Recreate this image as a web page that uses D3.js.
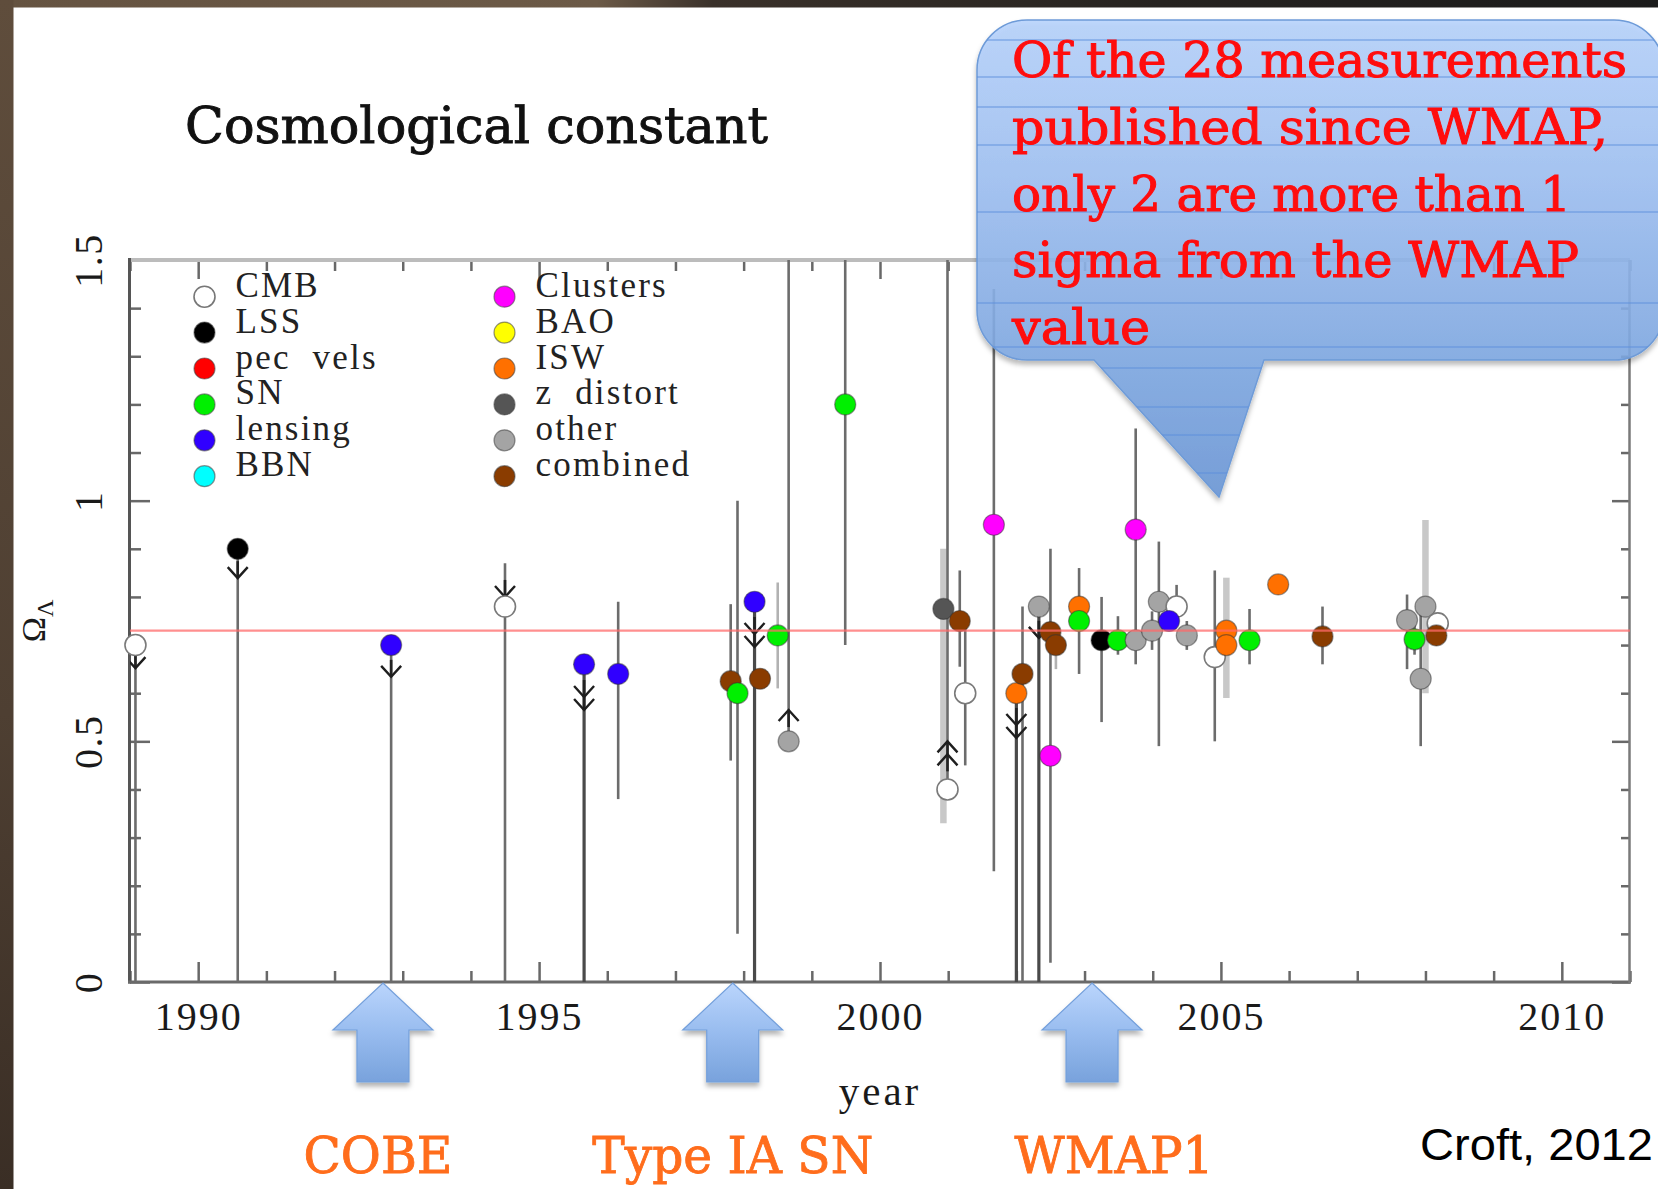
<!DOCTYPE html>
<html>
<head>
<meta charset="utf-8">
<script src="https://cdn.jsdelivr.net/npm/d3@7"></script>
<style>
  html, body { margin: 0; padding: 0; background: #fff; }
  svg { display: block; }
</style>
</head>
<body>
<svg id="chart" width="1658" height="1189"></svg>
<script>
// ---- Data -------------------------------------------------------------
const probes = ["CMB", "LSS", "pec vels", "SN", "lensing", "BBN",
                "Clusters", "BAO", "ISW", "z distort", "other", "combined"];
const probeColors = ["#ffffff", "#000000", "#ff0000", "#00f000", "#3000ff", "#00ffff",
                     "#ff00ff", "#ffff00", "#ff7000", "#555555", "#a4a4a4", "#8a3c00"];

// Omega_Lambda measurements: value with error range (lo..hi); err = bar style category
const measurements = [
  { year: 1989.08, probe: "CMB",       value: 0.70,  lo: 0.00, hi: 0.70 },
  { year: 1990.58, probe: "LSS",       value: 0.90,  lo: 0.00, hi: 0.90 },
  { year: 1992.83, probe: "lensing",   value: 0.70,  lo: 0.00, hi: 0.70 },
  { year: 1994.50, probe: "CMB",       value: 0.78,  lo: 0.00, hi: 0.87 },
  { year: 1995.66, probe: "lensing",   value: 0.66,  lo: 0.00, hi: 0.66, err: "dark" },
  { year: 1996.16, probe: "lensing",   value: 0.64,  lo: 0.38, hi: 0.79 },
  { year: 1997.81, probe: "combined",  value: 0.625, lo: 0.46, hi: 0.785 },
  { year: 1997.91, probe: "SN",        value: 0.60,  lo: 0.10, hi: 1.00 },
  { year: 1998.16, probe: "lensing",   value: 0.79,  lo: 0.00, hi: 0.79, err: "dark" },
  { year: 1998.24, probe: "combined",  value: 0.63 },
  { year: 1998.50, probe: "SN",        value: 0.72,  lo: 0.61, hi: 0.83, err: "faint" },
  { year: 1998.66, probe: "other",     value: 0.50,  lo: 0.52, hi: 1.60 },
  { year: 1999.49, probe: "SN",        value: 1.20,  lo: 0.70, hi: 1.60 },
  { year: 2000.93, probe: "z distort", value: 0.775, lo: 0.33, hi: 0.90, err: "wide" },
  { year: 2000.99, probe: "CMB",       value: 0.40,  lo: 0.42, hi: 1.60 },
  { year: 2001.17, probe: "combined",  value: 0.75,  lo: 0.655, hi: 0.855 },
  { year: 2001.25, probe: "CMB",       value: 0.60,  lo: 0.45, hi: 0.75 },
  { year: 2001.67, probe: "Clusters",  value: 0.95,  lo: 0.23, hi: 1.44 },
  { year: 2002.00, probe: "ISW",       value: 0.60,  lo: 0.00, hi: 0.60, err: "dark" },
  { year: 2002.09, probe: "combined",  value: 0.64,  lo: 0.00, hi: 0.78 },
  { year: 2002.33, probe: "other",     value: 0.78,  lo: 0.00, hi: 0.78, err: "dark" },
  { year: 2002.50, probe: "Clusters",  value: 0.47,  lo: 0.04, hi: 0.90 },
  { year: 2002.50, probe: "combined",  value: 0.727 },
  { year: 2002.58, probe: "combined",  value: 0.70,  lo: 0.65, hi: 0.73, err: "faint" },
  { year: 2002.92, probe: "ISW",       value: 0.78,  lo: 0.64, hi: 0.86 },
  { year: 2002.92, probe: "SN",        value: 0.75 },
  { year: 2003.25, probe: "LSS",       value: 0.71,  lo: 0.54, hi: 0.80 },
  { year: 2003.49, probe: "SN",        value: 0.71,  lo: 0.68, hi: 0.76 },
  { year: 2003.75, probe: "Clusters",  value: 0.94,  lo: 0.66, hi: 1.15 },
  { year: 2003.75, probe: "other",     value: 0.71 },
  { year: 2003.99, probe: "other",     value: 0.73,  lo: 0.69, hi: 0.77 },
  { year: 2004.09, probe: "other",     value: 0.79,  lo: 0.49, hi: 0.915 },
  { year: 2004.35, probe: "CMB",       value: 0.78,  lo: 0.74, hi: 0.825 },
  { year: 2004.24, probe: "lensing",   value: 0.75 },
  { year: 2004.50, probe: "other",     value: 0.72,  lo: 0.69, hi: 0.75 },
  { year: 2004.91, probe: "CMB",       value: 0.675, lo: 0.50, hi: 0.855 },
  { year: 2005.08, probe: "ISW",       value: 0.73,  lo: 0.59, hi: 0.84, err: "wide" },
  { year: 2005.08, probe: "ISW",       value: 0.70 },
  { year: 2005.42, probe: "SN",        value: 0.71,  lo: 0.66, hi: 0.775 },
  { year: 2005.84, probe: "ISW",       value: 0.826 },
  { year: 2006.49, probe: "combined",  value: 0.718, lo: 0.66, hi: 0.78 },
  { year: 2007.73, probe: "other",     value: 0.752, lo: 0.65, hi: 0.805 },
  { year: 2008.00, probe: "other",     value: 0.78,  lo: 0.60, hi: 0.96, err: "wide" },
  { year: 2007.93, probe: "other",     value: 0.63,  lo: 0.49, hi: 0.775 },
  { year: 2007.84, probe: "SN",        value: 0.712, lo: 0.68, hi: 0.75 },
  { year: 2008.18, probe: "CMB",       value: 0.745 },
  { year: 2008.16, probe: "combined",  value: 0.72,  lo: 0.70, hi: 0.74 }
];

// Limit arrowheads: tip value, direction, number of heads
const limitArrows = [
  { year: 1989.08, tip: 0.652, dir: "down", n: 1 },
  { year: 1990.58, tip: 0.839, dir: "down", n: 1 },
  { year: 1992.83, tip: 0.634, dir: "down", n: 1 },
  { year: 1994.50, tip: 0.800, dir: "down", n: 1 },
  { year: 1995.66, tip: 0.565, dir: "down", n: 2 },
  { year: 1998.16, tip: 0.696, dir: "down", n: 2 },
  { year: 1998.66, tip: 0.565, dir: "up",   n: 1 },
  { year: 2000.99, tip: 0.500, dir: "up",   n: 2 },
  { year: 2002.00, tip: 0.507, dir: "down", n: 2 },
  { year: 2002.33, tip: 0.715, dir: "down", n: 1 }
];

const wmapValue = 0.73;

const xTickYears = [1990, 1995, 2000, 2005, 2010];
const xTickLabels = ["1990", "1995", "2000", "2005", "2010"];
const yTickValues = [0, 0.5, 1, 1.5];
const yTickLabels = ["0", "0.5", "1", "1.5"];

const milestones = [
  { label: "COBE",       year: 1992.71 },
  { label: "Type IA SN", year: 1997.84 },
  { label: "WMAP1",      year: 2003.11 }
];

const calloutLines = [
  "Of the 28 measurements",
  "published since WMAP,",
  "only 2 are more than 1",
  "sigma from the WMAP",
  "value"
];

// ---- Setup --------------------------------------------------------------
const svg = d3.select("#chart");
const W = 1658, H = 1189;
const x = d3.scaleLinear().domain([1989, 2011]).range([130, 1630]);
const y = d3.scaleLinear().domain([0, 1.5]).range([982, 260]);
const color = d3.scaleOrdinal().domain(probes).range(probeColors);

const defs = svg.append("defs");

const topGrad = defs.append("linearGradient").attr("id", "topStrip")
  .attr("x1", 0).attr("x2", 1).attr("y1", 0).attr("y2", 0);
[[0, "#655341"], [0.36, "#6c5a47"], [0.43, "#3a312a"], [0.7, "#262320"], [1, "#1b1b1b"]]
  .forEach(([o, c]) => topGrad.append("stop").attr("offset", o).attr("stop-color", c));

const leftGrad = defs.append("linearGradient").attr("id", "leftStrip")
  .attr("x1", 0).attr("x2", 0).attr("y1", 0).attr("y2", 1);
[[0, "#5f4d3c"], [0.6, "#4e3f32"], [1, "#3a2e25"]]
  .forEach(([o, c]) => leftGrad.append("stop").attr("offset", o).attr("stop-color", c));

const bubbleGrad = defs.append("linearGradient").attr("id", "bubbleGrad")
  .attr("gradientUnits", "userSpaceOnUse").attr("x1", 0).attr("x2", 0).attr("y1", 20).attr("y2", 497);
[[0, "#b6d2fc"], [0.35, "#9dbff2"], [0.72, "#7ea8e2"], [1, "#6a96d6"]]
  .forEach(([o, c]) => bubbleGrad.append("stop").attr("offset", o).attr("stop-color", c));

const arrowGrad = defs.append("linearGradient").attr("id", "arrowGrad")
  .attr("x1", 0).attr("x2", 0).attr("y1", 0).attr("y2", 1);
[[0, "#bad5fc"], [0.5, "#98bcef"], [1, "#78a2dc"]]
  .forEach(([o, c]) => arrowGrad.append("stop").attr("offset", o).attr("stop-color", c));

const shadow = defs.append("filter").attr("id", "shadow")
  .attr("x", "-10%").attr("y", "-10%").attr("width", "130%").attr("height", "130%");
shadow.append("feDropShadow").attr("dx", 0).attr("dy", 4).attr("stdDeviation", 2.5)
  .attr("flood-color", "#000").attr("flood-opacity", 0.3);

defs.append("clipPath").attr("id", "plotClip").append("rect")
  .attr("x", x(1989)).attr("y", y(1.5)).attr("width", x(2011) - x(1989)).attr("height", y(0) - y(1.5));

// ---- Background ------------------------------------------------------------
svg.append("rect").attr("width", W).attr("height", H).attr("fill", "#fff");
svg.append("rect").attr("width", W).attr("height", 7.5).attr("fill", "url(#topStrip)");
svg.append("rect").attr("width", 13.5).attr("height", H).attr("fill", "url(#leftStrip)");

// ---- Title ---------------------------------------------------------------
svg.append("text").attr("x", 185).attr("y", 143)
  .attr("font-family", "'DejaVu Serif', serif").attr("font-size", 50)
  .attr("textLength", 583).attr("lengthAdjust", "spacingAndGlyphs")
  .attr("fill", "#111").attr("stroke", "#111").attr("stroke-width", 0.9)
  .text("Cosmological constant");

// ---- Axes ----------------------------------------------------------------
const allYears = d3.range(1989, 2012);
const minorYears = allYears.filter(d => d % 5 !== 0);
const yAll = d3.range(0, 16).map(d => d / 10);
const yMinor = yAll.filter(d => Math.round(d * 10) % 5 !== 0);

const tickStyle = g => {
  g.select(".domain").remove();
  g.selectAll(".tick line").attr("stroke", "#686868").attr("stroke-width", 2.5);
};

// bottom
svg.append("g").attr("transform", `translate(0,${y(0)})`)
  .call(d3.axisBottom(x).tickValues(minorYears).tickSize(-11).tickFormat(""))
  .call(tickStyle);
const xMajor = svg.append("g").attr("transform", `translate(0,${y(0)})`)
  .call(d3.axisBottom(x).tickValues(xTickYears).tickSize(-20).tickPadding(20)
    .tickFormat((d, i) => xTickLabels[i]))
  .call(tickStyle);
xMajor.selectAll(".tick text")
  .attr("font-family", "'Liberation Serif', serif").attr("font-size", 40)
  .attr("letter-spacing", 2).attr("fill", "#1a1a1a");

// top
svg.append("g").attr("transform", `translate(0,${y(1.5)})`)
  .call(d3.axisTop(x).tickValues(minorYears).tickSize(-11).tickFormat(""))
  .call(tickStyle);
svg.append("g").attr("transform", `translate(0,${y(1.5)})`)
  .call(d3.axisTop(x).tickValues(xTickYears).tickSize(-19).tickFormat(""))
  .call(tickStyle);

// left
svg.append("g").attr("transform", `translate(${x(1989)},0)`)
  .call(d3.axisLeft(y).tickValues(yMinor).tickSize(-11).tickFormat(""))
  .call(tickStyle);
const yMajor = svg.append("g").attr("transform", `translate(${x(1989)},0)`)
  .call(d3.axisLeft(y).tickValues(yTickValues).tickSize(-20)
    .tickFormat((d, i) => yTickLabels[i]))
  .call(tickStyle);
yMajor.selectAll(".tick text")
  .attr("x", null).attr("dy", null)
  .attr("transform", "translate(-28,0) rotate(-90)")
  .attr("text-anchor", "middle")
  .attr("font-family", "'Liberation Serif', serif").attr("font-size", 40)
  .attr("letter-spacing", 1.5).attr("fill", "#1a1a1a");

// right
svg.append("g").attr("transform", `translate(${x(2011)},0)`)
  .call(d3.axisRight(y).tickValues(yMinor).tickSize(-9).tickFormat(""))
  .call(tickStyle);
svg.append("g").attr("transform", `translate(${x(2011)},0)`)
  .call(d3.axisRight(y).tickValues(yTickValues).tickSize(-18).tickFormat(""))
  .call(tickStyle);

// frame
svg.append("line").attr("x1", x(1989) - 1).attr("x2", x(2011)).attr("y1", y(1.5)).attr("y2", y(1.5))
  .attr("stroke", "#bcbcbc").attr("stroke-width", 4);
svg.append("line").attr("x1", x(1989) - 0.5).attr("x2", x(1989) - 0.5).attr("y1", y(1.5) - 2).attr("y2", y(0) + 1.5)
  .attr("stroke", "#555").attr("stroke-width", 3);
svg.append("line").attr("x1", x(1989) - 2).attr("x2", x(2011) + 1).attr("y1", y(0)).attr("y2", y(0))
  .attr("stroke", "#6a6a6a").attr("stroke-width", 3);
svg.append("line").attr("x1", x(2011) - 0.5).attr("x2", x(2011) - 0.5).attr("y1", y(1.5)).attr("y2", y(0) + 1.5)
  .attr("stroke", "#7a7a7a").attr("stroke-width", 2.5);

// axis titles
svg.append("text").attr("x", 880).attr("y", 1105).attr("text-anchor", "middle")
  .attr("font-family", "'Liberation Serif', serif").attr("font-size", 41)
  .attr("letter-spacing", 3).attr("fill", "#1a1a1a").text("year");

const omega = svg.append("text").attr("transform", "translate(45,621) rotate(-90)")
  .attr("text-anchor", "middle")
  .attr("font-family", "'Liberation Serif', serif").attr("font-size", 34)
  .attr("fill", "#1a1a1a");
omega.append("tspan").text("Ω");
omega.append("tspan").attr("font-size", 24).attr("dy", 8).text("Λ");

// ---- Legend ----------------------------------------------------------------
const legend = svg.append("g");
probes.forEach((p, i) => {
  const col = Math.floor(i / 6), row = i % 6;
  const mx = col === 0 ? 204.5 : 504.5;
  const my = 296.7 + row * 35.9;
  legend.append("circle").attr("cx", mx).attr("cy", my).attr("r", 10.5)
    .attr("fill", color(p))
    .attr("stroke", p === "CMB" ? "#777" : "rgba(60,60,60,0.55)")
    .attr("stroke-width", p === "CMB" ? 1.6 : 1.2);
  legend.append("text").attr("x", mx + 31).attr("y", my)
    .attr("font-family", "'Liberation Serif', serif").attr("font-size", 35)
    .attr("letter-spacing", 2.2)
    .attr("fill", "#222").style("white-space", "pre")
    .text(p === "pec vels" ? "pec  vels" : p === "z distort" ? "z  distort" : p);
});

// ---- Measurements --------------------------------------------------------
const plot = svg.append("g").attr("clip-path", "url(#plotClip)");
const bars = measurements.filter(d => d.lo !== undefined);
const barStyle = {
  solid: { stroke: "#6c6c6c", width: 2.6 },
  dark:  { stroke: "#4a4a4a", width: 3.2 },
  faint: { stroke: "#b2b2b2", width: 2.6 },
  wide:  { stroke: "#c8c8c8", width: 6.5 }
};
const barOrder = ["wide", "faint", "solid", "dark"];
barOrder.forEach(kind => {
  plot.selectAll(null)
    .data(bars.filter(d => (d.err || "solid") === kind))
    .join("line")
    .attr("x1", d => x(d.year)).attr("x2", d => x(d.year))
    .attr("y1", d => y(Math.min(d.hi, 1.6))).attr("y2", d => y(d.lo))
    .attr("stroke", barStyle[kind].stroke).attr("stroke-width", barStyle[kind].width);
});

// arrowheads for limits
const heads = [];
limitArrows.forEach(a => {
  for (let k = 0; k < a.n; k++) {
    const sgn = a.dir === "down" ? 1 : -1;         // screen direction the arrow points
    const tipY = y(a.tip) - sgn * k * 13;
    heads.push({ x: x(a.year), tipY, sgn });
  }
});
plot.selectAll(null).data(limitArrows).join("line")
  .attr("x1", d => x(d.year)).attr("x2", d => x(d.year))
  .attr("y1", d => y(d.tip)).attr("y2", d => y(d.tip) - (d.dir === "down" ? 1 : -1) * (13 * d.n + 4))
  .attr("stroke", "#222").attr("stroke-width", 2.6);
plot.selectAll(null).data(heads).join("polyline")
  .attr("points", d => `${d.x - 10},${d.tipY - d.sgn * 11} ${d.x},${d.tipY} ${d.x + 10},${d.tipY - d.sgn * 11}`)
  .attr("fill", "none").attr("stroke", "#1e1e1e").attr("stroke-width", 2.4);

svg.append("g").selectAll("circle").data(measurements).join("circle")
  .attr("cx", d => x(d.year)).attr("cy", d => y(d.value)).attr("r", 10.5)
  .attr("fill", d => color(d.probe))
  .attr("stroke", d => d.probe === "CMB" ? "#7a7a7a" : "rgba(50,50,50,0.5)")
  .attr("stroke-width", d => d.probe === "CMB" ? 1.6 : 1.2);

// WMAP reference value
svg.append("line").attr("x1", x(1989)).attr("x2", x(2011))
  .attr("y1", y(wmapValue)).attr("y2", y(wmapValue))
  .attr("stroke", "#ff6a6a").attr("stroke-opacity", 0.75).attr("stroke-width", 2.4);

// ---- Callout bubble -------------------------------------------------------
const bx0 = 977, bx1 = 1664, by0 = 20, by1 = 360, r = 50;
const tip = [1219, 497];
const bubblePath = [
  `M${bx0 + r},${by0}`, `H${bx1 - r}`, `A${r},${r} 0 0 1 ${bx1},${by0 + r}`,
  `V${by1 - r}`, `A${r},${r} 0 0 1 ${bx1 - r},${by1}`,
  `H1264`, `L${tip[0]},${tip[1]}`, `L1094,${by1}`,
  `H${bx0 + r}`, `A${r},${r} 0 0 1 ${bx0},${by1 - r}`,
  `V${by0 + r}`, `A${r},${r} 0 0 1 ${bx0 + r},${by0}`, "Z"
].join(" ");
defs.append("clipPath").attr("id", "bubbleClip").append("path").attr("d", bubblePath);

const bubble = svg.append("g");
bubble.append("path").attr("d", bubblePath).attr("fill", "url(#bubbleGrad)")
  .attr("fill-opacity", 0.88).attr("stroke", "#6e9bd8").attr("stroke-width", 1.5)
  .attr("filter", "url(#shadow)");
const stripes = [40, 77, 107, 145, 212, 303, 347, 368, 407, 435, 473];
bubble.append("g").attr("clip-path", "url(#bubbleClip)")
  .selectAll("line").data(stripes).join("line")
  .attr("x1", bx0).attr("x2", bx1).attr("y1", d => d).attr("y2", d => d)
  .attr("stroke", "#5b8fdc").attr("stroke-opacity", 0.45).attr("stroke-width", 2);

const lineLengths = [615, 596, 559, 567, 138];
bubble.selectAll("text").data(calloutLines).join("text")
  .attr("x", 1012).attr("y", (d, i) => 77 + i * 66.8)
  .attr("font-family", "'DejaVu Serif', serif").attr("font-size", 49)
  .attr("textLength", (d, i) => lineLengths[i]).attr("lengthAdjust", "spacingAndGlyphs")
  .attr("fill", "#ff0d0d").attr("stroke", "#ff0d0d").attr("stroke-width", 1)
  .text(d => d);

// ---- Milestone arrows -------------------------------------------------------
const arrowTop = y(0) + 1, headBase = 1030, shaftBottom = 1082;
const upArrow = cx => [
  `M${cx},${arrowTop}`, `L${cx + 50},${headBase}`, `H${cx + 26}`, `V${shaftBottom}`,
  `H${cx - 26}`, `V${headBase}`, `H${cx - 50}`, "Z"
].join(" ");
svg.append("g").selectAll("path").data(milestones).join("path")
  .attr("d", d => upArrow(x(d.year)))
  .attr("fill", "url(#arrowGrad)").attr("stroke", "#739fdb").attr("stroke-width", 1.2)
  .attr("filter", "url(#shadow)");

const labelShift = [-5, 0, 22];
const labelLengths = [149, 281, 199];
svg.append("g").selectAll("text").data(milestones).join("text")
  .attr("x", (d, i) => x(d.year) + labelShift[i]).attr("y", 1173)
  .attr("text-anchor", "middle")
  .attr("font-family", "'DejaVu Serif', serif").attr("font-size", 51)
  .attr("textLength", (d, i) => labelLengths[i]).attr("lengthAdjust", "spacingAndGlyphs")
  .attr("fill", "#ff6d1c").attr("stroke", "#ff6d1c").attr("stroke-width", 0.9)
  .text(d => d.label);

svg.append("text").attr("x", 1420).attr("y", 1160)
  .attr("font-family", "'Liberation Sans', Arial, sans-serif").attr("font-size", 45)
  .attr("textLength", 233).attr("lengthAdjust", "spacingAndGlyphs")
  .attr("fill", "#000").text("Croft, 2012");
</script>
</body>
</html>
